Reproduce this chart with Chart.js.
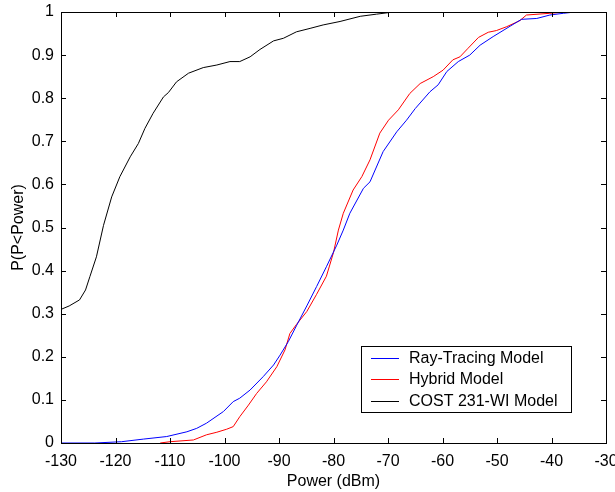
<!DOCTYPE html>
<html>
<head>
<meta charset="utf-8">
<script src="https://cdn.jsdelivr.net/npm/chart.js@4"></script>
<style>
  html, body { margin: 0; padding: 0; background: #fff; }
  #wrap { width: 615px; height: 492px; }
</style>
</head>
<body>
<div id="wrap"><canvas id="cdfChart" width="615" height="492"></canvas></div>
<script>
// series (power in dBm, cumulative probability)
const seriesLabels = ['Ray-Tracing Model', 'Hybrid Model', 'COST 231-WI Model'];
const seriesColors = ['#0000ff', '#ff0000', '#000000'];

const rayX = [-130, -123.8, -118.9, -114.9, -110.6, -106.9, -105.1, -103.3, -100.2, -98.4, -97.2, -95.3, -92.9, -91.0, -89.8, -88.3, -86.8, -84.9, -83.1, -81.3, -79.4, -78.2, -77.0, -74.5, -73.3, -70.9, -68.4, -66.6, -65.0, -62.3, -60.8, -59.2, -57.1, -55.0, -53.1, -50.7, -47.6, -45.5, -42.7, -40.3, -37.8, -35.7];
const rayY = [0, 0, 0.003, 0.009, 0.015, 0.026, 0.034, 0.046, 0.073, 0.096, 0.104, 0.123, 0.154, 0.181, 0.204, 0.235, 0.272, 0.318, 0.363, 0.409, 0.459, 0.494, 0.533, 0.591, 0.606, 0.676, 0.722, 0.749, 0.776, 0.815, 0.831, 0.862, 0.885, 0.900, 0.923, 0.943, 0.967, 0.983, 0.985, 0.993, 0.997, 1.0];

const hybridX = [-111.8, -110, -105.7, -103.3, -101.4, -99.6, -98.4, -97.2, -95.6, -94.1, -92.3, -90.4, -88.9, -88.0, -86.8, -84.9, -83.1, -81.3, -80.0, -79.1, -78.2, -76.4, -74.8, -73.3, -71.5, -69.9, -68.1, -66.0, -64.1, -61.7, -59.9, -58.1, -56.8, -55.3, -53.4, -51.6, -50.1, -48.2, -45.8, -44.6, -40.3, -37.2];
const hybridY = [0, 0.003, 0.007, 0.019, 0.025, 0.032, 0.038, 0.061, 0.088, 0.115, 0.142, 0.177, 0.216, 0.254, 0.275, 0.305, 0.345, 0.387, 0.442, 0.494, 0.533, 0.587, 0.618, 0.657, 0.719, 0.749, 0.773, 0.811, 0.834, 0.850, 0.865, 0.889, 0.896, 0.916, 0.941, 0.953, 0.957, 0.966, 0.980, 0.993, 0.997, 1.0];

const costX = [-130, -128.5, -126.6, -125.5, -124.7, -123.5, -122.2, -120.7, -119.2, -117.3, -115.8, -114.6, -113.1, -111.2, -110.3, -108.8, -106.6, -103.9, -101.4, -99.0, -97.2, -95.3, -93.5, -91.0, -89.2, -86.8, -84.3, -81.9, -78.8, -75.1, -72.1, -69.6, -64.5];
const costY = [0.31, 0.318, 0.332, 0.355, 0.386, 0.432, 0.505, 0.571, 0.618, 0.664, 0.695, 0.730, 0.765, 0.803, 0.813, 0.838, 0.858, 0.871, 0.877, 0.885, 0.885, 0.896, 0.913, 0.933, 0.939, 0.954, 0.962, 0.970, 0.978, 0.990, 0.995, 0.999, 1.0];

const xTicks = [-130, -120, -110, -100, -90, -80, -70, -60, -50, -40, -30];
const yTicks = [0, 0.1, 0.2, 0.3, 0.4, 0.5, 0.6, 0.7, 0.8, 0.9, 1];

const FONT = '"Liberation Sans", Arial, sans-serif';

function toPoints(xs, ys) {
    return xs.map((x, i) => ({ x: x, y: ys[i] }));
}

// box round the plot with inward tick marks on all four sides
const boxPlugin = {
    id: 'matlabBox',
    afterDraw(chart) {
        const ctx = chart.ctx;
        const a = chart.chartArea;
        const xs = chart.scales.x, ys = chart.scales.y;
        const len = 5;
        ctx.save();
        ctx.strokeStyle = '#000';
        ctx.lineWidth = 1;
        ctx.beginPath();
        xTicks.forEach(v => {
            const px = Math.round(xs.getPixelForValue(v)) + 0.5;
            ctx.moveTo(px, a.bottom); ctx.lineTo(px, a.bottom - len);
            ctx.moveTo(px, a.top); ctx.lineTo(px, a.top + len);
        });
        yTicks.forEach(v => {
            const py = Math.round(ys.getPixelForValue(v)) + 0.5;
            ctx.moveTo(a.left, py); ctx.lineTo(a.left + len, py);
            ctx.moveTo(a.right, py); ctx.lineTo(a.right - len, py);
        });
        ctx.stroke();
        ctx.strokeRect(Math.round(a.left) + 0.5, Math.round(a.top) + 0.5,
            Math.round(a.right - a.left), Math.round(a.bottom - a.top));

        // legend inside the plot, lower right
        const lx = 361.5, ly = 346.5, lw = 210, lh = 66;
        ctx.fillStyle = '#fff';
        ctx.fillRect(lx, ly, lw, lh);
        ctx.strokeRect(lx, ly, lw, lh);
        ctx.font = '16px ' + FONT;
        ctx.textBaseline = 'middle';
        ctx.textAlign = 'left';
        chart.data.datasets.forEach((ds, i) => {
            const cy = Math.round(358 + i * 21.3) + 0.5;
            ctx.strokeStyle = ds.borderColor;
            ctx.beginPath();
            ctx.moveTo(371, cy); ctx.lineTo(399, cy);
            ctx.stroke();
            ctx.fillStyle = '#000';
            ctx.fillText(ds.label, 409, cy);
        });
        ctx.restore();
    }
};

const ctx = document.getElementById('cdfChart').getContext('2d');
new Chart(ctx, {
    type: 'line',
    data: {
        datasets: [
            { label: seriesLabels[0], data: toPoints(rayX, rayY), borderColor: seriesColors[0] },
            { label: seriesLabels[1], data: toPoints(hybridX, hybridY), borderColor: seriesColors[1] },
            { label: seriesLabels[2], data: toPoints(costX, costY), borderColor: seriesColors[2] }
        ]
    },
    options: {
        responsive: false,
        animation: false,
        layout: { padding: { left: 0, top: 12, right: 9, bottom: 0 } },
        elements: {
            line: { borderWidth: 1, tension: 0 },
            point: { radius: 0 }
        },
        plugins: {
            legend: { display: false },
            tooltip: { enabled: false }
        },
        scales: {
            x: {
                type: 'linear',
                min: -130,
                max: -30,
                afterBuildTicks: axis => { axis.ticks = xTicks.map(v => ({ value: v })); },
                afterFit: axis => { axis.height = 49; axis.paddingLeft = 0; axis.paddingRight = 0; },
                grid: { display: false, drawTicks: false },
                border: { display: false },
                ticks: { color: '#000', padding: 9, maxRotation: 0, font: { family: FONT, size: 16 } },
                title: { display: true, text: 'Power (dBm)', color: '#000', padding: { top: 0, bottom: 1 }, font: { family: FONT, size: 16 } }
            },
            y: {
                type: 'linear',
                min: 0,
                max: 1,
                afterBuildTicks: axis => { axis.ticks = yTicks.map(v => ({ value: v })); },
                afterFit: axis => { axis.width = 61; axis.paddingTop = 0; axis.paddingBottom = 0; },
                grid: { display: false, drawTicks: false },
                border: { display: false },
                ticks: {
                    color: '#000', padding: 7, font: { family: FONT, size: 16 },
                    callback: v => String(Math.round(v * 10) / 10)
                },
                title: { display: true, text: 'P(P<Power)', color: '#000', padding: { top: 9, bottom: 0 }, font: { family: FONT, size: 16 } }
            }
        }
    },
    plugins: [boxPlugin]
});
</script>
</body>
</html>
